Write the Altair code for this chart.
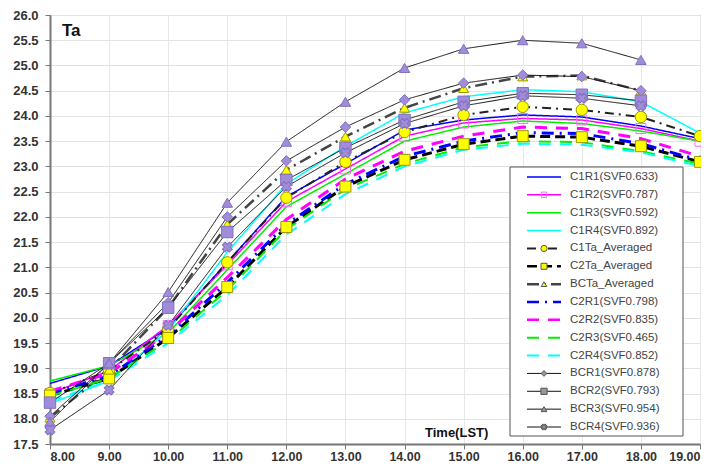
import altair as alt
import pandas as pd

hours = [8, 9, 10, 11, 12, 13, 14, 15, 16, 17, 18, 19]

C1R1 = [18.70, 19.05, 19.80, 21.10, 22.40, 23.05, 23.72, 23.92, 24.02, 23.98, 23.80, 23.55]
C1R2 = [18.50, 18.95, 19.85, 21.05, 22.30, 22.95, 23.60, 23.86, 23.95, 23.92, 23.75, 23.50]
C1R3 = [18.75, 19.05, 19.70, 20.95, 22.20, 22.85, 23.50, 23.78, 23.90, 23.85, 23.70, 23.50]
C1R4 = [18.30, 18.75, 19.75, 21.30, 22.65, 23.40, 24.06, 24.38, 24.52, 24.48, 24.28, 23.66]
C1Ta = [18.51, 18.95, 19.78, 21.10, 22.38, 23.09, 23.68, 24.02, 24.18, 24.12, 23.98, 23.60]
C2Ta = [18.46, 18.80, 19.60, 20.61, 21.80, 22.60, 23.13, 23.44, 23.60, 23.58, 23.40, 23.09]
BCTa = [18.02, 18.97, 20.20, 21.85, 22.93, 23.59, 24.16, 24.55, 24.78, 24.80, 24.50, None]
C2R1 = [18.50, 18.85, 19.65, 20.70, 21.85, 22.65, 23.20, 23.50, 23.67, 23.65, 23.45, 23.12]
C2R2 = [18.55, 18.90, 19.70, 20.80, 21.95, 22.75, 23.30, 23.60, 23.78, 23.75, 23.55, 23.20]
C2R3 = [18.45, 18.80, 19.55, 20.55, 21.75, 22.55, 23.05, 23.38, 23.50, 23.48, 23.30, 23.05]
C2R4 = [18.35, 18.75, 19.50, 20.45, 21.65, 22.45, 23.00, 23.33, 23.45, 23.43, 23.28, 23.00]
BCR1 = [18.05, 19.10, 20.30, 22.00, 23.11, 23.78, 24.32, 24.65, 24.81, 24.78, 24.50, None]
BCR2 = [18.32, 19.10, 20.20, 21.70, 22.73, 23.37, 23.92, 24.28, 24.45, 24.42, 24.30, None]
BCR3 = [17.94, 19.10, 20.51, 22.28, 23.49, 24.28, 24.95, 25.33, 25.50, 25.44, 25.11, None]
BCR4 = [17.78, 18.57, 19.85, 21.40, 22.60, 23.27, 23.85, 24.20, 24.40, 24.35, 24.20, None]

labels = ["C1R1(SVF0.633)", "C1R2(SVF0.787)", "C1R3(SVF0.592)", "C1R4(SVF0.892)",
          "C1Ta_Averaged", "C2Ta_Averaged", "BCTa_Averaged",
          "C2R1(SVF0.798)", "C2R2(SVF0.835)", "C2R3(SVF0.465)", "C2R4(SVF0.852)",
          "BCR1(SVF0.878)", "BCR2(SVF0.793)", "BCR3(SVF0.954)", "BCR4(SVF0.936)"]
values = [C1R1, C1R2, C1R3, C1R4, C1Ta, C2Ta, BCTa, C2R1, C2R2, C2R3, C2R4, BCR1, BCR2, BCR3, BCR4]

PURPLE = "#a08cd8"
YEL = "#ffff00"
styles = [
    dict(color="#0000ff", width=1.5, dash=[1, 0], shape=None),
    dict(color="#ff00ff", width=1.5, dash=[1, 0], shape="square", fill=None, stroke="#ff66ff", size=100, filled=False),
    dict(color="#00ee00", width=1.5, dash=[1, 0], shape=None),
    dict(color="#00ffff", width=1.5, dash=[1, 0], shape=None),
    dict(color="#222222", width=2, dash=[9, 5, 2, 5], shape="circle", fill=YEL, stroke="#999900", size=130, filled=True),
    dict(color="#000000", width=3, dash=[10, 5], shape="square", fill=YEL, stroke="#999900", size=120, filled=True),
    dict(color="#444444", width=2.5, dash=[12, 5, 2, 5], shape="triangle-up", fill=YEL, stroke="#999900", size=100, filled=True),
    dict(color="#0000ff", width=3, dash=[12, 6, 2, 6], shape=None),
    dict(color="#ff00ff", width=3, dash=[12, 9], shape=None),
    dict(color="#00ee00", width=2, dash=[12, 9], shape=None),
    dict(color="#00ffff", width=2, dash=[12, 9], shape=None),
    dict(color="#111111", width=1, dash=[1, 0], shape="diamond", fill=PURPLE, stroke="#8070c0", size=110, filled=True),
    dict(color="#111111", width=1, dash=[1, 0], shape="square", fill=PURPLE, stroke="#8070c0", size=130, filled=True),
    dict(color="#111111", width=1, dash=[1, 0], shape="triangle-up", fill=PURPLE, stroke="#8070c0", size=110, filled=True),
    dict(color="#111111", width=1, dash=[1, 0], shape="cross", fill=PURPLE, stroke="#8070c0", size=100, filled=True, angle=45),
]

xs = alt.X("hour:Q", scale=alt.Scale(domain=[8, 19], nice=False),
           axis=alt.Axis(values=hours, labelExpr="format(datum.value, '.2f')", title=None,
                         grid=True, gridColor="#e8e8e8", labelPadding=1, labelFontSize=12.5))
ys = alt.Y("ta:Q", scale=alt.Scale(domain=[17.5, 26.0], nice=False, zero=False),
           axis=alt.Axis(values=[17.5 + 0.5 * i for i in range(18)], format=".1f", title=None,
                         grid=True, gridColor="#e3e3e3", labelPadding=7))

line_layers = []
point_layers = []
for name, vals, st in zip(labels, values, styles):
    df = pd.DataFrame({"hour": hours, "ta": vals, "series": name}).dropna()
    base = alt.Chart(df)
    line_layers.append(base.mark_line(color=st["color"], strokeWidth=st["width"],
                                      strokeDash=st["dash"]).encode(x=xs, y=ys))
    if st["shape"]:
        kw = dict(shape=st["shape"], size=st["size"], strokeWidth=1, opacity=1)
        if st["filled"]:
            kw.update(filled=True, fill=st["fill"], stroke=st["stroke"])
        else:
            kw.update(filled=False, stroke=st["stroke"])
        if st.get("angle"):
            kw["angle"] = st["angle"]
        point_layers.append(base.mark_point(**kw).encode(x=xs, y=ys))

main = alt.layer(*line_layers, *point_layers)

# legend drawn inside the plot
leg_scale = alt.Scale(domain=[0, 14], range=[162, 412])
box = alt.Chart(pd.DataFrame({"a": [0]})).mark_rect(fill="white", stroke="#555555", strokeWidth=1).encode(
    x=alt.value(460), x2=alt.value(633), y=alt.value(152), y2=alt.value(421))
leg_layers = [box]
for i, (name, st) in enumerate(zip(labels, styles)):
    ldf = pd.DataFrame({"k": [i], "label": [name]})
    lb = alt.Chart(ldf)
    yk = alt.Y("k:Q", scale=leg_scale, axis=None)
    leg_layers.append(lb.mark_rule(color=st["color"], strokeWidth=min(st["width"], 2.5),
                                   strokeDash=st["dash"]).encode(x=alt.value(477), x2=alt.value(511), y=yk))
    if st["shape"]:
        kw = dict(shape=st["shape"], size=max(st["size"] * 0.3, 20), strokeWidth=1, opacity=1)
        if st["filled"]:
            kw.update(filled=True, fill=st["fill"] if st["fill"] != PURPLE else "#999999", stroke="#555555")
        else:
            kw.update(filled=False, stroke=st["stroke"])
        if st.get("angle"):
            kw["angle"] = st["angle"]
        leg_layers.append(lb.mark_point(**kw).encode(x=alt.value(494), y=yk))
    leg_layers.append(lb.mark_text(align="left", baseline="middle", fontSize=11.5, color="#444444",
                                   font="Liberation Sans").encode(x=alt.value(520), y=yk, text="label:N"))

ann = alt.Chart(pd.DataFrame({"t": ["Ta"]})).mark_text(
    align="left", baseline="middle", fontSize=17, fontWeight="bold", font="Liberation Sans", color="#111111"
).encode(x=alt.value(12), y=alt.value(16), text="t:N")
ann2 = alt.Chart(pd.DataFrame({"t": ["Time(LST)"]})).mark_text(
    align="left", baseline="middle", fontSize=13, fontWeight="bold", font="Liberation Sans", color="#111111"
).encode(x=alt.value(375), y=alt.value(418), text="t:N")

legend = alt.layer(*leg_layers, ann, ann2)

chart = alt.layer(main, legend).resolve_scale(y="independent").properties(
    width=650, height=429,
    autosize=alt.AutoSizeParams(type="none"),
    padding={"left": 42, "top": 7, "right": 1, "bottom": 21}
).configure_view(stroke="#888888", strokeWidth=1).configure_axis(
    labelFont="Liberation Sans", labelFontSize=13, labelFontWeight="bold", labelColor="#333333",
    domainColor="#777777", domainWidth=2, tickColor="#777777", tickSize=5
)

chart.save("out.html", embed_options={"renderer": "svg", "actions": False})
